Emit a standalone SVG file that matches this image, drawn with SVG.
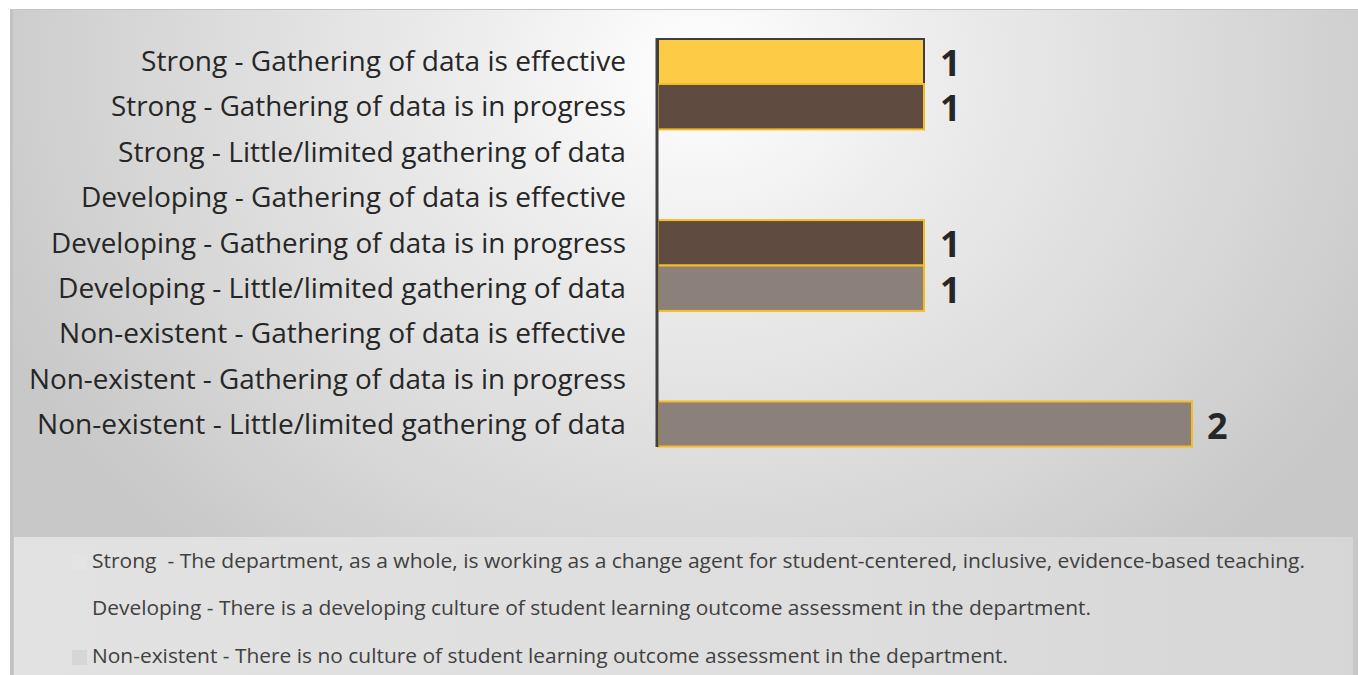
<svg xmlns="http://www.w3.org/2000/svg" width="1358" height="675" viewBox="0 0 1358 675">
<defs>
<radialGradient id="bg" gradientUnits="userSpaceOnUse" cx="700" cy="70" r="760" gradientTransform="translate(700 70) scale(1 0.85) translate(-700 -70)">
<stop offset="0" stop-color="#ffffff"/>
<stop offset="0.3" stop-color="#ededed"/>
<stop offset="0.75" stop-color="#d6d6d6"/>
<stop offset="1" stop-color="#c8c8c8"/>
</radialGradient>
<linearGradient id="lg" x1="0" y1="0" x2="1" y2="0">
<stop offset="0" stop-color="#e2e2e2"/>
<stop offset="0.6" stop-color="#dedede"/>
<stop offset="1" stop-color="#d6d6d6"/>
</linearGradient>
<style>
.lbl{font-family:"Open Sans","Liberation Sans",sans-serif;font-size:27.5px;fill:#262626;text-anchor:end}
.val{font-family:"Open Sans","Liberation Sans",sans-serif;font-size:36px;font-weight:bold;fill:#262626}
.leg{font-family:"Open Sans","Liberation Sans",sans-serif;font-size:20.5px;fill:#404040}
.bar{stroke:#F5BC22;stroke-width:2}
</style>
</defs>
<rect x="0" y="0" width="1358" height="675" fill="#ffffff"/>
<rect id="frame" x="10" y="9" width="1348" height="666" fill="url(#bg)"/>
<line x1="10" y1="9.5" x2="1358" y2="9.5" stroke="#c4c4c4" stroke-width="1"/>
<line x1="11.5" y1="9" x2="11.5" y2="675" stroke="#c2c2c2" stroke-width="3"/>
<rect id="legend-band" x="14" y="537" width="1339" height="138" fill="url(#lg)"/>

<g id="labels">
<text class="lbl" x="626" y="71" textLength="485" lengthAdjust="spacingAndGlyphs">Strong - Gathering of data is effective</text>
<text class="lbl" x="626" y="116.4" textLength="515" lengthAdjust="spacingAndGlyphs">Strong - Gathering of data is in progress</text>
<text class="lbl" x="626" y="161.8" textLength="508" lengthAdjust="spacingAndGlyphs">Strong - Little/limited gathering of data</text>
<text class="lbl" x="626" y="207.2" textLength="545" lengthAdjust="spacingAndGlyphs">Developing - Gathering of data is effective</text>
<text class="lbl" x="626" y="252.6" textLength="575" lengthAdjust="spacingAndGlyphs">Developing - Gathering of data is in progress</text>
<text class="lbl" x="626" y="298" textLength="568" lengthAdjust="spacingAndGlyphs">Developing - Little/limited gathering of data</text>
<text class="lbl" x="626" y="343.4" textLength="567" lengthAdjust="spacingAndGlyphs">Non-existent - Gathering of data is effective</text>
<text class="lbl" x="626" y="388.8" textLength="597" lengthAdjust="spacingAndGlyphs">Non-existent - Gathering of data is in progress</text>
<text class="lbl" x="626" y="434.2" textLength="589" lengthAdjust="spacingAndGlyphs">Non-existent - Little/limited gathering of data</text>
</g>

<g id="bars">
<g id="bar-strong-effective">
<rect x="658" y="39" width="266" height="45" fill="#FDCB46" stroke="#3f3f3f" stroke-width="2"/>
<text class="val" x="940" y="76">1</text>
</g>
<g id="bar-strong-progress">
<rect class="bar" x="658" y="84" width="266" height="45.4" fill="#604B41"/>
<text class="val" x="940" y="121">1</text>
</g>
<g id="bar-developing-progress">
<rect class="bar" x="658" y="220.1" width="266" height="45.4" fill="#604B41"/>
<text class="val" x="940" y="257">1</text>
</g>
<g id="bar-developing-limited">
<rect class="bar" x="658" y="265.5" width="266" height="45.4" fill="#8C807B"/>
<text class="val" x="940" y="302.5">1</text>
</g>
<g id="bar-nonexistent-limited">
<rect class="bar" x="658" y="401.5" width="534" height="45" fill="#8C807B"/>
<text class="val" x="1207" y="439">2</text>
</g>
</g>

<g id="axis">
<line x1="657" y1="38" x2="657" y2="447" stroke="#404040" stroke-width="3"/>
</g>

<g id="legend">
<rect x="72" y="555" width="15" height="15" fill="#e4e4e4"/>
<text class="leg" x="92" y="568" textLength="1213" lengthAdjust="spacingAndGlyphs" xml:space="preserve">Strong  - The department, as a whole, is working as a change agent for student-centered, inclusive, evidence-based teaching.</text>
<rect x="72" y="601" width="15" height="15" fill="#e2e2e2"/>
<text class="leg" x="92" y="615" textLength="999" lengthAdjust="spacingAndGlyphs">Developing - There is a developing culture of student learning outcome assessment in the department.</text>
<rect x="72" y="650" width="15" height="15" fill="#d6d6d6"/>
<text class="leg" x="92" y="663" textLength="916" lengthAdjust="spacingAndGlyphs">Non-existent - There is no culture of student learning outcome assessment in the department.</text>
</g>
</svg>
